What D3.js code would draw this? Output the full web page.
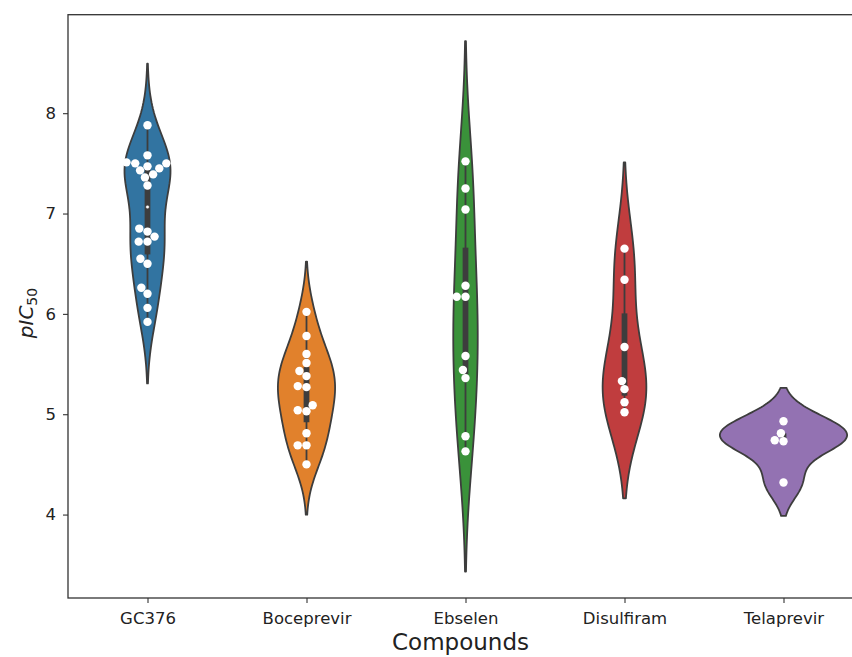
<!DOCTYPE html>
<html lang="en">
<head>
    <meta charset="UTF-8">
    <title>pIC50 by compound</title>
    <script src="https://d3js.org/d3.v7.min.js"></script>
    <style>
        body, html { margin: 0; background: #fff; }
        svg { display: block; }
        text { font-family: 'DejaVu Sans', sans-serif; fill: #222; }
    </style>
</head>
<body>
    <svg width="852" height="657"></svg>
    <script>
        // values
        const compounds = ["GC376", "Boceprevir", "Ebselen", "Disulfiram", "Telaprevir"];
        const gc376 = [7.88, 7.58, 7.51, 7.50, 7.50, 7.47, 7.45, 7.43, 7.39, 7.36, 7.28,
                       6.85, 6.82, 6.77, 6.72, 6.72, 6.55, 6.50, 6.26, 6.20, 6.06, 5.92];
        const boceprevir = [6.02, 5.78, 5.60, 5.51, 5.43, 5.38, 5.28, 5.27, 5.09, 5.04, 5.03, 4.81, 4.69, 4.69, 4.50];
        const ebselen = [7.52, 7.25, 7.04, 6.28, 6.17, 6.17, 5.58, 5.44, 5.36, 4.78, 4.63];
        const disulfiram = [6.65, 6.34, 5.67, 5.33, 5.25, 5.12, 5.02];
        const telaprevir = [4.93, 4.81, 4.74, 4.73, 4.32];
        const yTicks = [4, 5, 6, 7, 8];
        const colors = ["#3274a1", "#e1812c", "#3a923a", "#c03d3e", "#9372b2"];

        const series = [gc376, boceprevir, ebselen, disulfiram, telaprevir];
        const gray = "#3d3d3d";
        const lw = 1.8;

        const mLeft = 68, mTop = 14.7, mBottom = 598, mRight = 863;
        const svg = d3.select("svg");

        // gaussian kde, scott bandwidth, cut = 2 (like seaborn)
        function kde(values) {
            const n = values.length;
            const bw = d3.deviation(values) * Math.pow(n, -0.2);
            const lo = d3.min(values) - 2 * bw, hi = d3.max(values) + 2 * bw;
            const grid = d3.range(100).map(i => lo + (hi - lo) * i / 99);
            return grid.map(g => [g, d3.mean(values, v => Math.exp(-0.5 * ((g - v) / bw) ** 2)) / (bw * Math.sqrt(2 * Math.PI))]);
        }
        const dens = series.map(kde);

        const yMin = d3.min(dens, d => d[0][0]), yMax = d3.max(dens, d => d[d.length - 1][0]);
        const pad = (yMax - yMin) * 0.05;
        const y = d3.scaleLinear().domain([yMin - pad, yMax + pad]).range([mBottom, mTop]);
        const x = d3.scalePoint().domain(compounds).range([mLeft, mRight]).padding(0.5);
        const maxDens = d3.max(dens, d => d3.max(d, p => p[1]));
        const w = d3.scaleLinear().domain([0, maxDens]).range([0, x.step() * 0.4]);

        // violins
        dens.forEach((d, i) => {
            const cx = x(compounds[i]);
            const area = d3.area()
                .y(p => y(p[0]))
                .x0(p => cx - w(p[1]))
                .x1(p => cx + w(p[1]));
            svg.append("path")
                .datum(d)
                .attr("d", area)
                .attr("fill", colors[i])
                .attr("stroke", gray)
                .attr("stroke-width", lw)
                .attr("stroke-linejoin", "round");
        });

        // inner box
        series.forEach((vals, i) => {
            const cx = x(compounds[i]);
            const s = vals.slice().sort(d3.ascending);
            const q1 = d3.quantile(s, 0.25), q2 = d3.quantile(s, 0.5), q3 = d3.quantile(s, 0.75);
            const lim = 1.5 * (q3 - q1);
            const h1 = d3.min(s.filter(v => v >= q1 - lim));
            const h2 = d3.max(s.filter(v => v <= q3 + lim));
            svg.append("line").attr("x1", cx).attr("x2", cx)
                .attr("y1", y(h1)).attr("y2", y(h2))
                .attr("stroke", gray).attr("stroke-width", lw);
            svg.append("line").attr("x1", cx).attr("x2", cx)
                .attr("y1", y(q1)).attr("y2", y(q3))
                .attr("stroke", gray).attr("stroke-width", lw * 3.2);
            svg.append("circle").attr("cx", cx).attr("cy", y(q2)).attr("r", 1.8)
                .attr("fill", "white").attr("stroke", gray).attr("stroke-width", 0.5);
        });

        // swarm points
        const r = 4.2;
        function swarm(vals, cx) {
            const pts = vals.slice().sort(d3.ascending).map(v => ({v, y: y(v)}));
            const placed = [];
            pts.forEach(p => {
                const near = placed.filter(q => Math.abs(q.y - p.y) < 2 * r);
                const cands = [cx];
                let leftFirst = true;
                near.forEach(q => {
                    const dx = Math.sqrt(Math.max(4 * r * r - (p.y - q.y) ** 2, 0)) * 1.05;
                    const c = leftFirst ? [q.x - dx, q.x + dx] : [q.x + dx, q.x - dx];
                    cands.push(...c);
                    leftFirst = !leftFirst;
                });
                cands.sort((a, b) => Math.abs(a - cx) - Math.abs(b - cx));
                const ok = cands.find(c => near.every(q => Math.hypot(q.x - c, q.y - p.y) >= 2 * r - 0.01));
                p.x = ok === undefined ? cx : ok;
                placed.push(p);
            });
            return placed;
        }
        series.forEach((vals, i) => {
            svg.append("g").selectAll("circle")
                .data(swarm(vals, x(compounds[i])))
                .join("circle")
                .attr("cx", d => d.x)
                .attr("cy", d => d.y)
                .attr("r", r)
                .attr("fill", "white");
        });

        // axes
        const yAxis = svg.append("g")
            .attr("transform", `translate(${mLeft},0)`)
            .call(d3.axisLeft(y).tickValues(yTicks).tickFormat(d3.format("d")).tickSize(5).tickPadding(7));
        const xAxis = svg.append("g")
            .attr("transform", `translate(0,${mBottom})`)
            .call(d3.axisBottom(x).tickSize(5).tickPadding(9));
        [yAxis, xAxis].forEach(a => {
            a.select(".domain").remove();
            a.selectAll(".tick line").attr("stroke", "#333").attr("stroke-width", 1.1);
            a.selectAll(".tick text").style("font-family", "'DejaVu Sans', sans-serif")
                .style("font-size", "16.5px").attr("fill", "#222");
        });

        // frame
        svg.append("rect")
            .attr("x", mLeft).attr("y", mTop)
            .attr("width", mRight - mLeft).attr("height", mBottom - mTop)
            .attr("fill", "none").attr("stroke", "#333").attr("stroke-width", 1.3);

        // labels
        svg.append("text")
            .attr("x", (mLeft + mRight) / 2 - 5).attr("y", 650)
            .attr("text-anchor", "middle")
            .style("font-size", "23px")
            .text("Compounds");

        const yl = svg.append("text")
            .attr("transform", "translate(33,313) rotate(-90)")
            .attr("text-anchor", "middle")
            .style("font-size", "20px");
        yl.append("tspan").style("font-style", "italic").text("pIC");
        yl.append("tspan").attr("dy", 4).style("font-size", "14px").text("50");
    </script>
</body>
</html>
